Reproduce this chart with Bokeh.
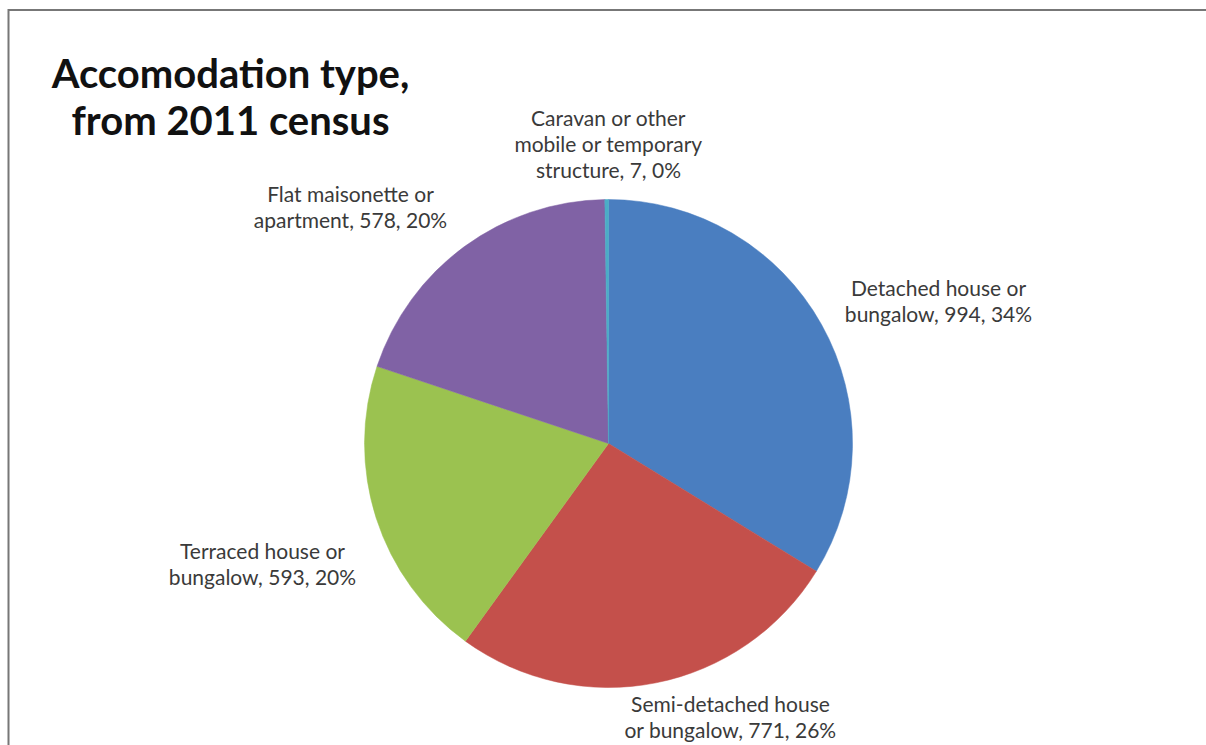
import math
from bokeh.plotting import figure
from bokeh.models import Range1d, ColumnDataSource
from bokeh.core.properties import value
from bokeh.embed import file_html
from bokeh.resources import INLINE

# ---- data ----
categories = ["Detached house or bungalow", "Semi-detached house or bungalow",
              "Terraced house or bungalow", "Flat maisonette or apartment",
              "Caravan or other mobile or temporary structure"]
label_names = ["Detached house or\nbungalow", "Semi-detached house\nor bungalow",
               "Terraced house or\nbungalow", "Flat maisonette or\napartment",
               "Caravan or other\nmobile or temporary\nstructure"]
counts = [994, 771, 593, 578, 7]
colors = ["#4a7ec0", "#c4504b", "#9bc250", "#8062a5", "#4bacc6"]

# ---- layout (pixel-like data coords) ----
W, H = 1206, 745
cx, cy, R = 608, 302, 244
label_pos = [(938, 445), (730, 29), (262, 182), (350, 539), (608, 602)]

total = sum(counts)
starts, ends = [], []
a = math.pi / 2
for c in counts:
    ang = 2 * math.pi * c / total
    starts.append(a)
    ends.append(a - ang)
    a -= ang

texts = [f"{n}, {c}, {round(100 * c / total)}%" for n, c in zip(label_names, counts)]

src = ColumnDataSource(dict(start=starts, end=ends, color=colors, cat=categories))

p = figure(width=W, height=H, x_range=Range1d(0, W), y_range=Range1d(0, H),
           output_backend="svg", toolbar_location=None, min_border=0)
p.axis.visible = False
p.grid.visible = False
p.outline_line_color = None
p.background_fill_color = "white"
p.border_fill_color = "white"

p.wedge(x=cx, y=cy, radius=R, start_angle="end", end_angle="start",
        fill_color="color", line_color="color", line_width=0.5, source=src)

lsrc = ColumnDataSource(dict(x=[q[0] for q in label_pos], y=[q[1] for q in label_pos], t=texts))
p.text(x="x", y="y", text="t", source=lsrc, text_align="center", text_baseline="middle",
       text_font=value("Lato"), text_font_size="21px", text_color="#3a3a3a",
       text_line_height=1.05)

p.text(x=[230], y=[649], text=["Accomodation type,\nfrom 2011 census"], text_align="center",
       text_baseline="middle", text_font=value("Lato"), text_font_style="bold",
       text_font_size="40px", text_color="#111111", text_line_height=0.96)

# frame lines (top and left)
p.segment(x0=[8, 8], y0=[735.5, 0], x1=[W, 8], y1=[735.5, 736.5],
          line_color="#777777", line_width=2)

open("out.html", "w").write(file_html(p, INLINE))
